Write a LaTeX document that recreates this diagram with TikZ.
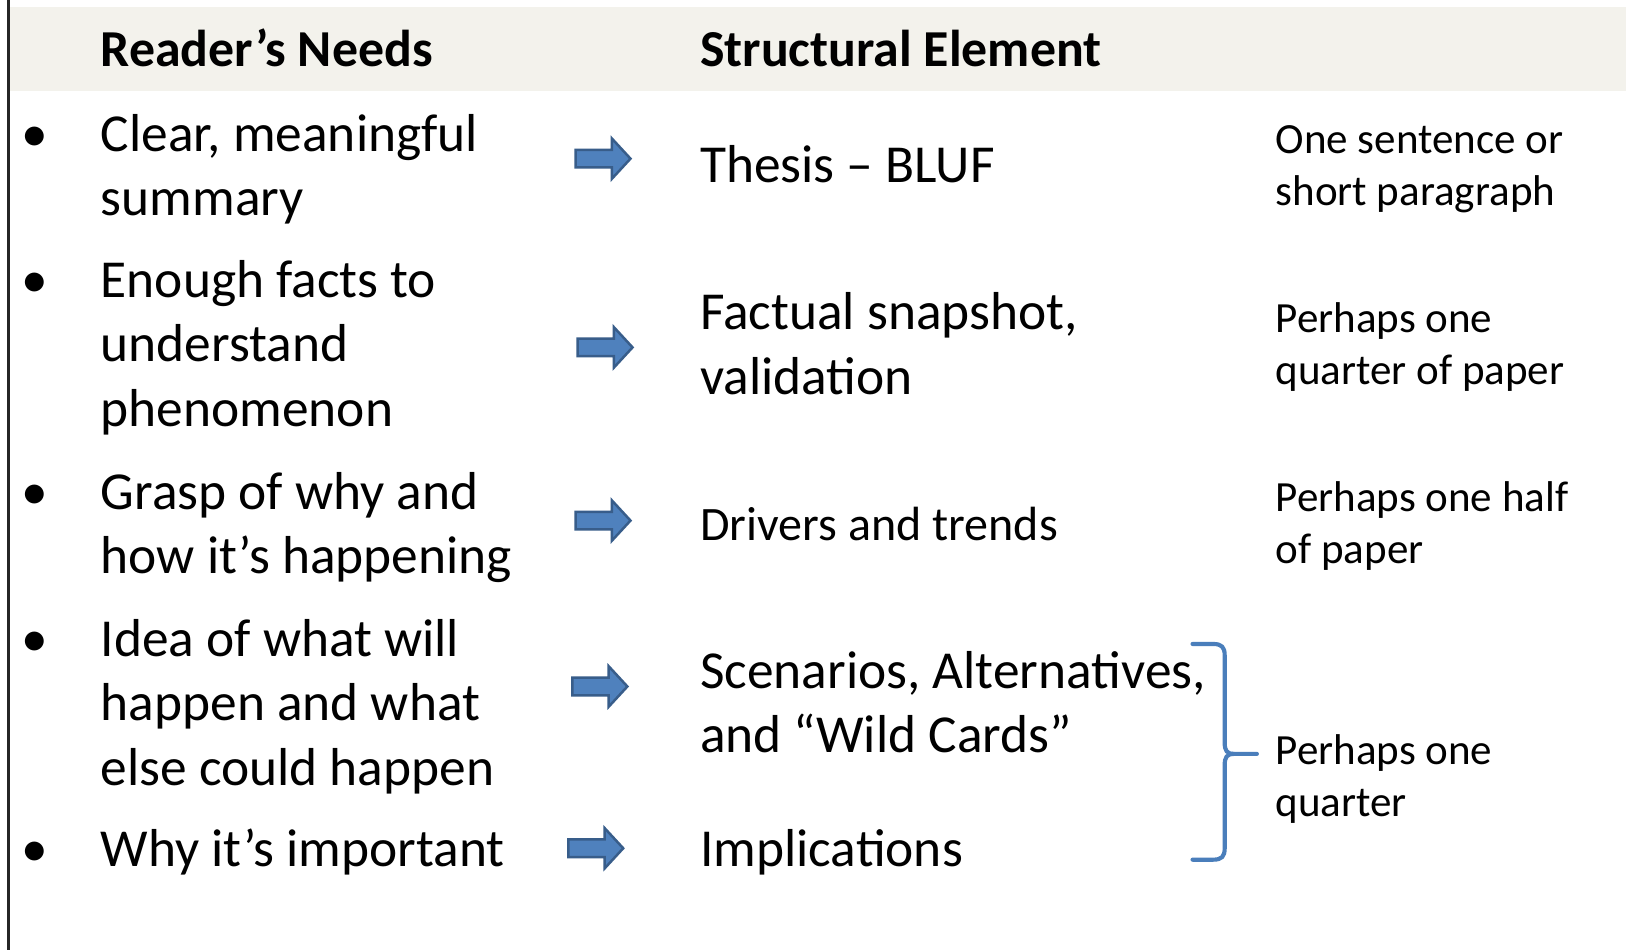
\documentclass[tikz,border=0pt]{standalone}
\usepackage{fontspec}
\setmainfont{Carlito}
\definecolor{band}{RGB}{243,242,236}
\definecolor{arrfill}{RGB}{79,129,189}
\definecolor{arrline}{RGB}{56,93,138}
\definecolor{bracec}{RGB}{74,126,187}
\newcommand{\blockarrow}[2]{%
  \filldraw[fill=arrfill,draw=arrline,line width=2.4pt,line join=miter]
    (#1,#2) ++(0,-8.5) -- ++(35,0) -- ++(0,-11) -- ++(18,19.5)
    -- ++(-18,19.5) -- ++(0,-11) -- ++(-35,0) -- cycle;}
\begin{document}
\begin{tikzpicture}[x=1pt,y=-1pt,
  body/.style={anchor=base west,inner sep=0pt,align=left,font=\fontsize{51.5}{62}\selectfont},
  mid/.style={body},
  small/.style={anchor=base west,inner sep=0pt,align=left,font=\fontsize{41.5}{50}\selectfont},
  head/.style={anchor=base west,inner sep=0pt,font=\fontsize{50}{60}\selectfont\bfseries},
  bul/.style={anchor=base west,inner sep=0pt,font=\fontsize{51.5}{62}\selectfont}]
\useasboundingbox[fill=white] (0,0) rectangle (1568,916);
% header band and left rule
\fill[band] (9,7) rectangle (1568,88);
\draw[line width=2.4pt,black!85] (8,0) -- (8,916);
% headers
\node[head] (h1) at (97,64) {Reader’s Needs};
\node[head] (h2) at (675,64) {Structural Element};
% bullets
\node[bul] (b1) at (21,146) {•};
\node[bul] (b2) at (21,287) {•};
\node[bul] (b3) at (21,491) {•};
\node[bul] (b4) at (21,633) {•};
\node[bul] (b5) at (21,836) {•};
% reader's needs (base anchor = baseline of the last line)
\node[body] (n1) at (97,208) {Clear, meaningful\\summary};
\node[body] (n2) at (97,411) {Enough facts to\\understand\\phenomenon};
\node[body] (n3) at (97,553) {Grasp of why and\\how it’s happening};
\node[body] (n4) at (97,757) {Idea of what will\\happen and what\\else could happen};
\node[body] (n5) at (97,836) {Why it’s important};
% structural elements
\node[mid] (s1) at (675,176) {Thesis – BLUF};
\node[mid] (s2) at (675,380) {Factual snapshot,\\validation};
\node[mid,font=\fontsize{46.3}{56}\selectfont] (s3) at (675,521) {Drivers and trends};
\node[mid] (s4) at (675,726) {Scenarios, Alternatives,\\and “Wild Cards”};
\node[mid] (s5) at (675,836) {Implications};
% proportions
\node[small] (r1) at (1230,198) {One sentence or\\short paragraph};
\node[small] (r2) at (1230,371) {Perhaps one\\quarter of paper};
\node[small] (r3) at (1230,543) {Perhaps one half\\of paper};
\node[small] (r4) at (1230,787) {Perhaps one\\quarter};
% block arrows
\blockarrow{555}{153}
\blockarrow{557}{335}
\blockarrow{555}{502}
\blockarrow{552}{662}
\blockarrow{548}{818}
% brace
\draw[bracec,line width=4pt,line cap=round,line join=round]
  (1150,621) -- (1170,621) .. controls (1178,621) and (1181,624) .. (1181,632)
  -- (1181,716) .. controls (1181,724) and (1183,727) .. (1190,727) -- (1212,727);
\draw[bracec,line width=4pt,line cap=round,line join=round]
  (1190,727) .. controls (1183,727) and (1181,730) .. (1181,738)
  -- (1181,818) .. controls (1181,826) and (1178,829) .. (1170,829) -- (1150,829);
\end{tikzpicture}
\end{document}
